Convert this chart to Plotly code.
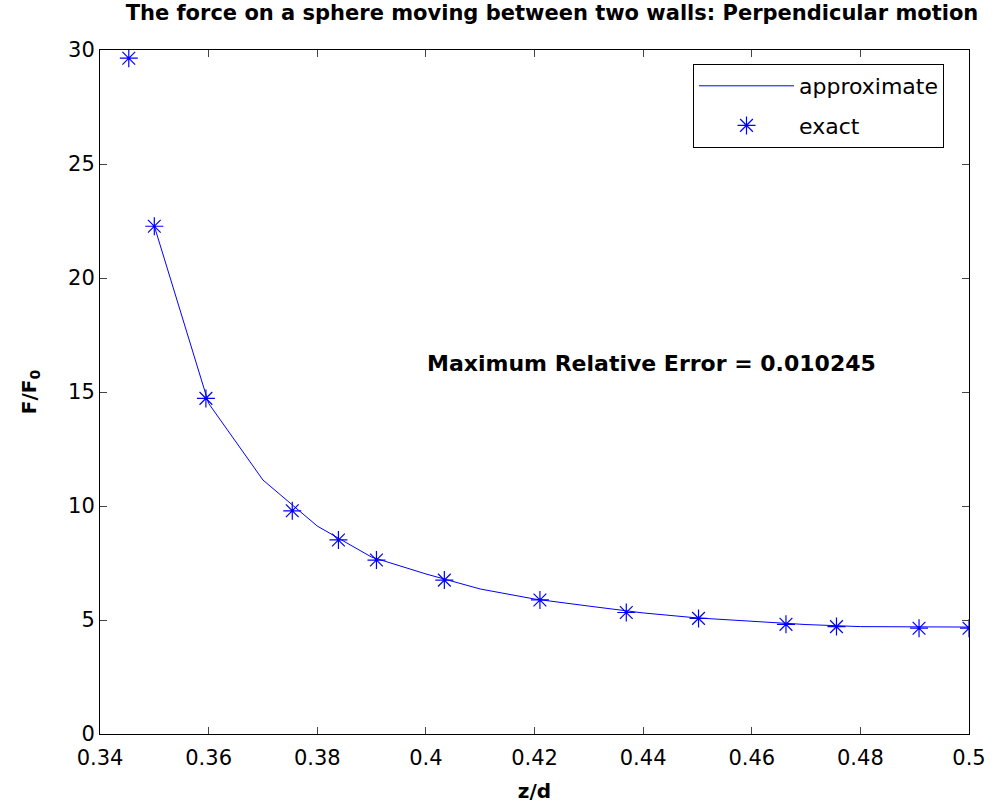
import plotly.graph_objects as go

# approximate solution (line)
approx_x = [0.35, 0.36, 0.37, 0.38, 0.39, 0.40, 0.41, 0.42, 0.43, 0.44, 0.45, 0.46, 0.47, 0.48, 0.49, 0.50]
approx_y = [22.28, 14.5, 11.14, 9.12, 7.76, 7.02, 6.36, 5.92, 5.61, 5.31, 5.09, 4.96, 4.80, 4.71, 4.69, 4.69]

# exact solution (markers)
exact_x = [0.3453, 0.3500, 0.3595, 0.3754, 0.3839, 0.3909, 0.4034, 0.4210, 0.4369, 0.4502, 0.4663, 0.4756, 0.4908, 0.5000]
exact_y = [29.64, 22.27, 14.72, 9.79, 8.51, 7.63, 6.75, 5.88, 5.33, 5.07, 4.81, 4.71, 4.64, 4.64]

xtick_vals = [0.34, 0.36, 0.38, 0.40, 0.42, 0.44, 0.46, 0.48, 0.50]
xtick_text = ["0.34", "0.36", "0.38", "0.4", "0.42", "0.44", "0.46", "0.48", "0.5"]
ytick_vals = [0, 5, 10, 15, 20, 25, 30]

title_text = "The force on a sphere moving between two walls: Perpendicular motion"
note_text = "Maximum Relative Error = 0.010245"
note_pos = (0.4415, 16.27)

FONT = "DejaVu Sans, Arial, Helvetica, sans-serif"
BLUE = "#0000FF"

fig = go.Figure()
fig.add_trace(go.Scatter(
    x=approx_x, y=approx_y, mode="lines", name="approximate",
    line=dict(color=BLUE, width=1), legendgroup="a"))
fig.add_trace(go.Scatter(
    x=exact_x, y=exact_y, mode="markers", name="exact",
    marker=dict(symbol="asterisk-open", size=15, color=BLUE,
                line=dict(color=BLUE, width=1.2)), legendgroup="b"))

axis_common = dict(
    showline=True, linecolor="black", linewidth=1, mirror="allticks",
    ticks="inside", ticklen=7, tickcolor="#444", showgrid=False, zeroline=False,
    automargin=False,
    tickfont=dict(family=FONT, size=21, color="black"),
)

fig.update_layout(
    width=995, height=805,
    margin=dict(l=100, r=26, t=50, b=71),
    paper_bgcolor="white", plot_bgcolor="white",
    showlegend=True,
    title=dict(text=title_text, x=552 / 995, xref="container", xanchor="center",
               y=1 - 13 / 805, yref="container", yanchor="middle",
               font=dict(family=FONT, size=21, color="black", weight="bold")),
    xaxis=dict(range=[0.34, 0.5], tickvals=xtick_vals, ticktext=xtick_text,
               ticklabelstandoff=5,
               title=dict(text="z/d", standoff=14,
                          font=dict(family=FONT, size=20, color="black", weight="bold")),
               **axis_common),
    yaxis=dict(range=[0, 30], tickvals=ytick_vals,
               title=dict(text="F/F<sub>0</sub>", standoff=26,
                          font=dict(family=FONT, size=20, color="black", weight="bold")),
               **axis_common),
    legend=dict(x=(693 - 100) / 869, y=1 - (64 - 50) / 684, xanchor="left", yanchor="top",
                bordercolor="black", borderwidth=1, bgcolor="white",
                tracegroupgap=8, itemwidth=95,
                font=dict(family=FONT, size=22, color="black")),
    annotations=[dict(x=note_pos[0], y=note_pos[1], xref="x", yref="y",
                      text=note_text, showarrow=False,
                      font=dict(family=FONT, size=22, color="black", weight="bold"))],
)

fig.write_html("out.html", config={"displayModeBar": False},
               post_script="document.body.style.margin='0';")
